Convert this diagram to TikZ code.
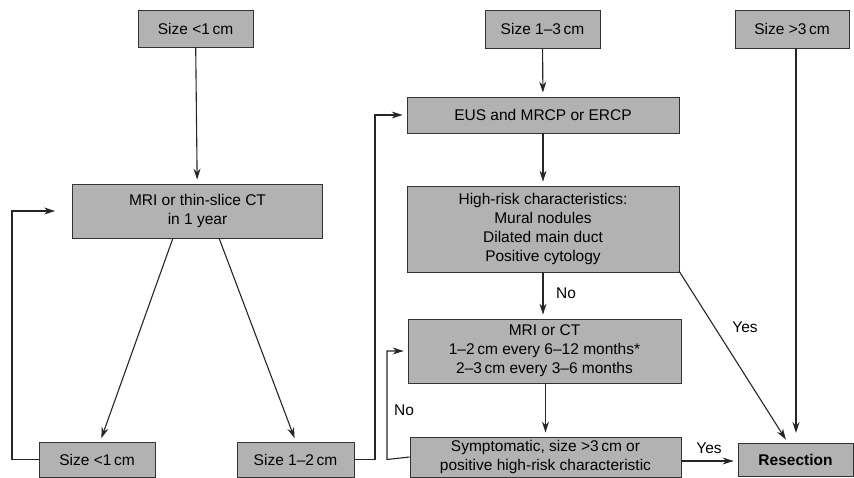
\documentclass[tikz,border=0pt]{standalone}
\usepackage{fontspec}
\setmainfont{Liberation Sans}
\usetikzlibrary{arrows.meta}
\begin{document}
\begin{tikzpicture}[x=1pt,y=-1pt,
  box/.style={draw=black!80,line width=0.8pt,fill=black!30,rectangle,inner sep=0pt,align=center,
    font=\fontsize{15.5}{19}\selectfont},
  conn/.style={draw=black!85,line width=1.1pt},
  arr/.style={conn,-{Stealth[length=11pt,width=7pt]},shorten >=4pt},
  lbl/.style={font=\fontsize{15.5}{19}\selectfont,inner sep=0pt}]
\useasboundingbox (0,0) rectangle (854,478);
\node[box,minimum width=115pt,minimum height=37pt] (A) at (195.5,28.5) {Size <1\,cm};
\node[box,minimum width=115pt,minimum height=38pt] (B) at (542.5,29) {Size 1–3\,cm};
\node[box,minimum width=114pt,minimum height=38pt] (C) at (792,29) {Size >3\,cm};
\node[box,minimum width=250pt,minimum height=54pt] (D) at (197.5,211) {MRI or thin-slice CT\\in 1 year};
\node[box,minimum width=272pt,minimum height=36pt] (E) at (543,115) {EUS and MRCP or ERCP};
\node[box,minimum width=272pt,minimum height=86pt] (F) at (543,229) {High-risk characteristics:\\Mural nodules\\Dilated main duct\\Positive cytology};
\node[box,minimum width=273pt,minimum height=64pt] (G) at (544.5,351) {MRI or CT\\1–2\,cm every 6–12 months*\\2–3\,cm every 3–6 months};
\node[box,minimum width=271pt,minimum height=40pt] (H) at (545.5,457) {Symptomatic, size >3\,cm or\\positive high-risk characteristic};
\node[box,minimum width=115pt,minimum height=33pt,font=\fontsize{15.5}{19}\selectfont\bfseries] (I) at (795.5,459.5) {Resection};
\node[box,minimum width=116pt,minimum height=35pt] (J) at (97,459.5) {Size <1\,cm};
\node[box,minimum width=117pt,minimum height=35pt] (K) at (295.5,459.5) {Size 1–2\,cm};

\coordinate (d1) at (173,238);
\coordinate (d2) at (219,238);
\coordinate (j1) at (100,442);
\coordinate (k1) at (296,442);
\coordinate (fse) at (679,271);
\coordinate (itop1) at (788,443);

\draw[arr] (A) -- (D);
\draw[arr] (d1) -- (j1);
\draw[arr] (d2) -- (k1);
\draw[arr,shorten >=17pt] (J.west) -- (12,459.5) |- (D.west);
\draw[arr] (K.east) -- (375,459.5) |- (E.west);
\draw[arr] (B) -- (E);
\draw[arr] (E) -- (F);
\draw[arr] (F) -- (F |- G.north);
\draw[arr] (fse) -- (itop1);
\draw[arr,shorten >=10pt] (C.south -| 796,0) -- (796,443);
\draw[arr] (G.south -| H.north) -- (H);
\draw[arr] (H.west) -- (387,459.5) |- (G.west);
\draw[arr] (H.east |- 0,461) -- (I.west |- 0,461);

\node[lbl] (no1) at (566,293) {No};
\node[lbl] (no2) at (404,410) {No};
\node[lbl] (yes1) at (745,327) {Yes};
\node[lbl] (yes2) at (709,448) {Yes};
\end{tikzpicture}
\end{document}
